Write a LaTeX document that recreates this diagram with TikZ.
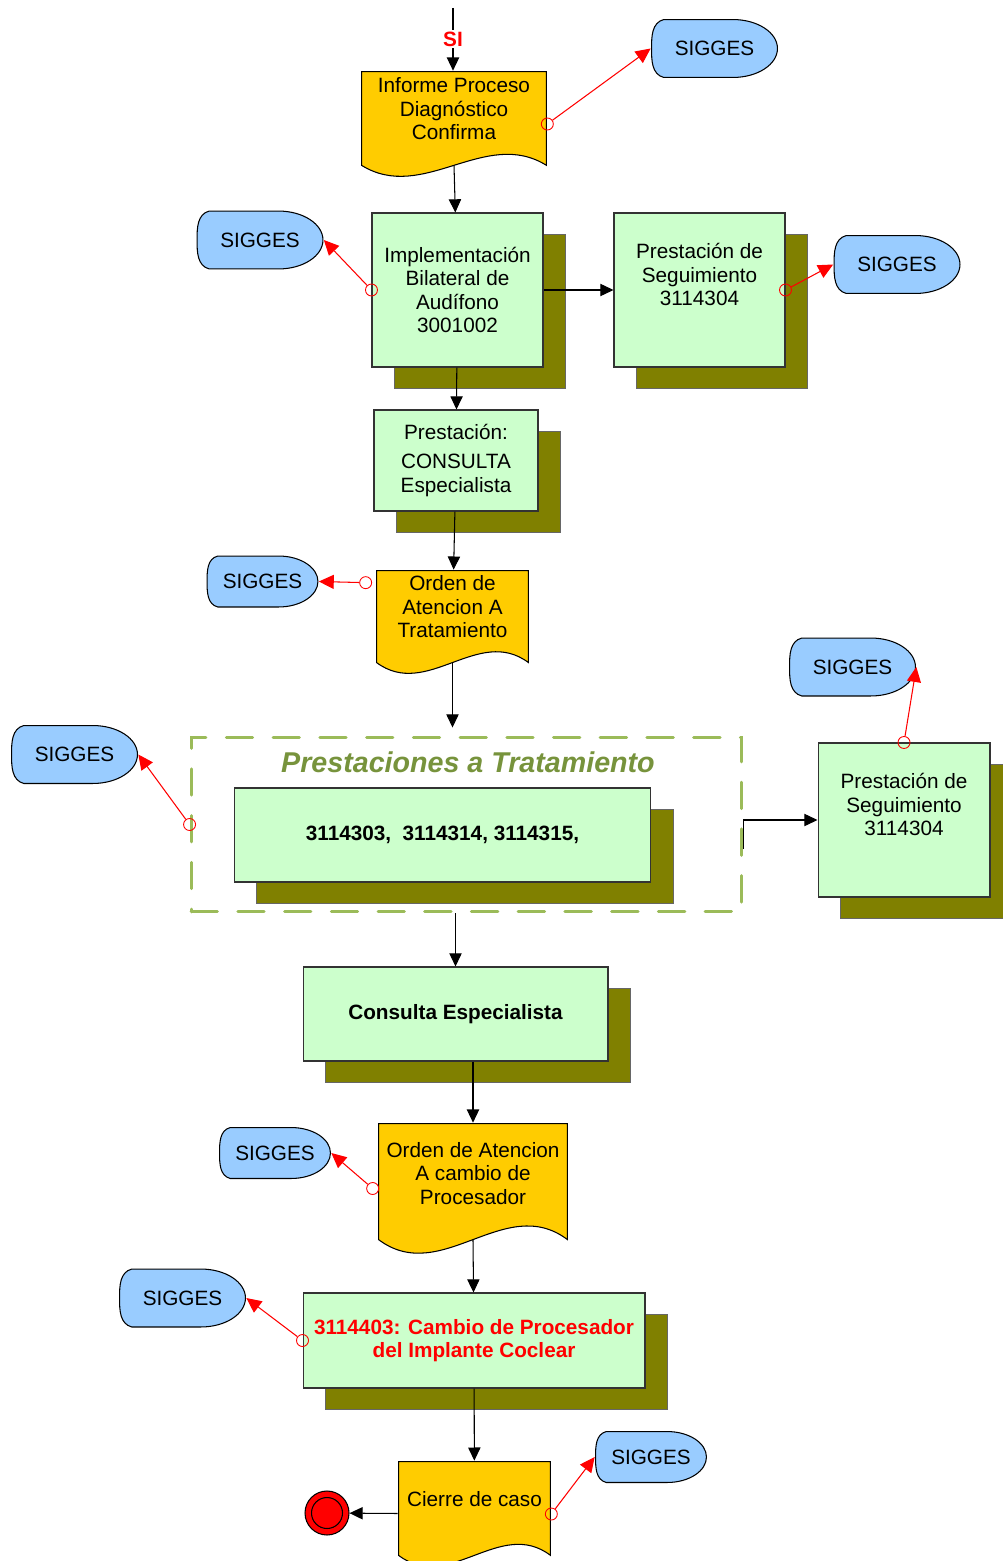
\documentclass[tikz,border=0pt]{standalone}
\usepackage{fontspec}
\setmainfont{Liberation Sans}
\usepackage{tikz}
\usetikzlibrary{positioning,calc,shadows,arrows.meta}
\definecolor{docyellow}{HTML}{FFCC00}
\definecolor{boxgreen}{HTML}{CCFFCC}
\definecolor{shadowolive}{HTML}{808000}
\definecolor{siggesblue}{HTML}{99CCFF}
\definecolor{framegreen}{HTML}{9BBB59}
\definecolor{titlegreen}{HTML}{77933C}

\begin{document}
\begin{tikzpicture}[x=0.02cm, y=-0.02cm,
    txt/.style={font=\fontsize{11.8}{13.4}\selectfont, align=center, inner sep=0pt},
    block/.style={txt, rectangle, draw=black!80, line width=0.6pt, fill=boxgreen,
        general shadow={fill=shadowolive, draw=black!60, line width=0.4pt, shadow xshift=0.44cm, shadow yshift=-0.42cm}},
    doc/.style={txt, rectangle, path picture={
        \draw[fill=docyellow, line width=0.6pt]
            let \p1=(path picture bounding box.north west), \p2=(path picture bounding box.south east),
                \n1={\x2-\x1}, \n2={\y1-\y2}, \n3={\y2+0.11*\n2} in
            ({\x1+0.3pt},{\y1-0.3pt}) -- ({\x2-0.3pt},{\y1-0.3pt}) -- ({\x2-0.3pt},{\n3*1pt})
            .. controls ({\x2-\n1*1pt/3},{(\n3+0.36*\n2)*1pt}) and ({\x1+\n1*1pt/3},{(\n3-0.36*\n2)*1pt}) .. ({\x1+0.3pt},{\n3*1pt}) -- cycle;
        }},
    sigges/.style={txt, rectangle, minimum width=2.54cm, minimum height=1.18cm, path picture={
        \draw[fill=siggesblue, line width=0.6pt]
            let \p1=(path picture bounding box.north west), \p2=(path picture bounding box.south east),
                \n1={\x2-\x1}, \n2={\y1-\y2} in
            ({\x1+0.1*\n1},{\y1-0.3pt}) -- ({\x2-0.355*\n1},{\y1-0.3pt})
            arc[start angle=90, end angle=-90, x radius={0.355*\n1-0.3pt}, y radius={0.5*\n2-0.3pt}]
            -- ({\x1+0.1*\n1},{\y2+0.3pt}) to[out=165,in=-90] ({\x1+0.3pt},{(\y1+\y2)/2})
            to[out=90,in=-165] ({\x1+0.1*\n1},{\y1-0.3pt}) -- cycle;
        }},
    smallsig/.style={minimum width=2.24cm, minimum height=1.04cm},
    prestframe/.style={draw=framegreen, line width=1.7pt, dash pattern=on 15pt off 11.6pt, line cap=round,
        minimum width=11.02cm, minimum height=3.5cm},
    ocirc/.style={circle, draw=red, line width=0.5pt, minimum size=0.24cm, inner sep=0pt},
    stop/.style={circle, draw=black, line width=0.6pt, fill=red, minimum size=0.88cm, inner sep=0pt,
        path picture={\draw[line width=0.6pt] (path picture bounding box.center) circle[radius=0.31cm];}},
    arrow/.style={-{Triangle[length=7.5pt,width=7pt]}, line width=0.6pt},
    redarrow/.style={-{Triangle[length=8.5pt,width=8pt]}, red, line width=0.6pt}
]
    \clip (0,0) rectangle (1003,1561);

    \coordinate (top) at (453,8);
    \node[doc, minimum width=3.72cm, minimum height=2.12cm] (doc1) at (454,124) {Informe Proceso\\Diagnóstico\\Confirma\\\strut};
    \node[block, minimum width=3.42cm, minimum height=3.08cm] (impl) at (457.5,290) {Implementación\\Bilateral de\\Audífono\\3001002};
    \node[block, minimum width=3.42cm, minimum height=3.08cm] (seg1) at (699.5,290) {Prestación de\\Seguimiento\\3114304\\\strut};
    \node[block, minimum width=3.28cm, minimum height=2.02cm] (cons1) at (456,460.5) {Prestación:\\[3pt]CONSULTA\\Especialista};
    \node[doc, minimum width=3.06cm, minimum height=2.08cm] (ord1) at (452.5,622) {Orden de\\Atencion A\\Tratamiento\\\strut};

    \node[prestframe] (grp) at (466.5,824.5) {};
    \node[font=\fontsize{16.3}{19}\selectfont\bfseries\itshape, text=titlegreen, inner sep=0pt] (grptitle) at (468,762) {Prestaciones a Tratamiento};
    \node[block, font=\fontsize{11.8}{13.4}\selectfont\bfseries, minimum width=8.34cm, minimum height=1.88cm] (trat) at (442.5,835) {3114303,~~3114314, 3114315,};
    \node[block, minimum width=3.44cm, minimum height=3.08cm] (seg2) at (904,820) {Prestación de\\Seguimiento\\3114304\\\strut};

    \node[block, font=\fontsize{11.8}{13.4}\selectfont\bfseries, minimum width=6.10cm, minimum height=1.88cm] (cons2) at (455.5,1014) {Consulta Especialista};
    \node[doc, minimum width=3.80cm, minimum height=2.62cm] (ord2) at (473,1188.5) {Orden de Atencion\\A cambio de\\Procesador\\\strut};
    \node[block, font=\fontsize{11.8}{13.4}\selectfont\bfseries, text=red, minimum width=6.84cm, minimum height=1.90cm] (proc) at (474,1340.5) {3114403: Cambio de Procesador\\del Implante Coclear};
    \node[doc, minimum width=3.06cm, minimum height=2.12cm] (cierre) at (474.5,1514) {Cierre de caso\\\strut};
    \node[stop] (fin) at (327,1513) {};

    \node[sigges] (sg1) at (714.5,48.5) {SIGGES};
    \node[sigges] (sg2) at (260,240) {SIGGES};
    \node[sigges] (sg3) at (897,264.5) {SIGGES};
    \node[sigges, smallsig] (sg4) at (262.5,581.5) {SIGGES};
    \node[sigges] (sg5) at (74.5,754.5) {SIGGES};
    \node[sigges] (sg6) at (852.5,667) {SIGGES};
    \node[sigges, smallsig] (sg7) at (275,1153) {SIGGES};
    \node[sigges] (sg8) at (182.5,1298) {SIGGES};
    \node[sigges, smallsig] (sg9) at (651,1457) {SIGGES};

    \node[ocirc] (c1) at (doc1.east) {};
    \node[ocirc] (c2) at (impl.west) {};
    \node[ocirc] (c3) at (seg1.east) {};
    \node[ocirc] (c4) at ([shift={(-10,13)}]ord1.north west) {};
    \node[ocirc] (c5) at (grp.west) {};
    \node[ocirc] (c6) at (seg2.north) {};
    \node[ocirc] (c7) at ([shift={(-5,0)}]ord2.west) {};
    \node[ocirc] (c8) at (proc.west) {};
    \node[ocirc] (c9) at (cierre.east) {};

    \draw[arrow] (top) -- node[fill=white, inner sep=1pt, text=red, font=\fontsize{11.8}{13.4}\selectfont\bfseries] (si) {SI} (top |- doc1.north);
    \draw[arrow] ([yshift=0.24cm]doc1.south) -- (impl);
    \draw[arrow] (impl) -- (seg1);
    \draw[arrow] (impl) -- (cons1);
    \draw[arrow] (cons1) -- (ord1);
    \draw[arrow, shorten >=0.16cm] ([yshift=0.23cm]ord1.south) -- (ord1 |- grp.north);
    \draw[arrow] ($(grp.east)+(0,24)$) |- (seg2.west);
    \draw[arrow] (grp.south -| cons2.north) -- (cons2.north);
    \draw[arrow] (cons2.south -| ord2.north) -- (ord2.north);
    \draw[arrow] ([yshift=0.29cm]ord2.south) -- (proc);
    \draw[arrow] (proc) -- (cierre);
    \draw[arrow] (cierre) -- (fin);

    \draw[redarrow] (c1) -- (sg1.west);
    \draw[redarrow] (c2) -- (sg2.east);
    \draw[redarrow] (c3) -- (sg3.west);
    \draw[redarrow] (c4) -- (sg4.east);
    \draw[redarrow] (c5) -- (sg5.east);
    \draw[redarrow] (c6) -- (sg6.east);
    \draw[redarrow] (c7) -- (sg7.east);
    \draw[redarrow] (c8) -- (sg8.east);
    \draw[redarrow] (c9) -- (sg9.west);
\end{tikzpicture}
\end{document}
